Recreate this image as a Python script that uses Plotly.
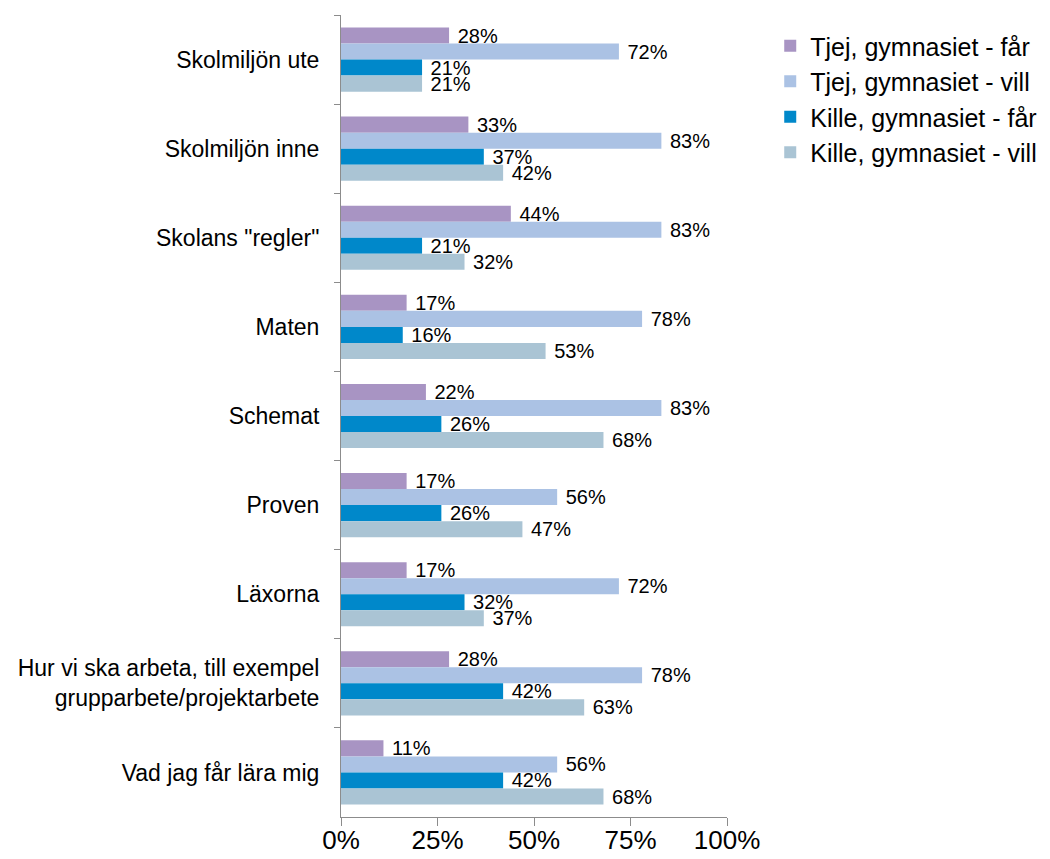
import plotly.graph_objects as go

categories = ['Skolmiljön ute', 'Skolmiljön inne', 'Skolans "regler"', 'Maten', 'Schemat',
              'Proven', 'Läxorna', 'Hur vi ska arbeta, till exempel<br>grupparbete/projektarbete',
              'Vad jag får lära mig']

tjej_far = [28, 33, 44, 17, 22, 17, 17, 28, 11]
tjej_vill = [72, 83, 83, 78, 83, 56, 72, 78, 56]
kille_far = [21, 37, 21, 16, 26, 26, 32, 42, 42]
kille_vill = [21, 42, 32, 53, 68, 47, 37, 63, 68]

x_ticks = [0, 25, 50, 75, 100]

series = [
    ('Tjej, gymnasiet - får', tjej_far, '#A894C3'),
    ('Tjej, gymnasiet - vill', tjej_vill, '#ABC2E4'),
    ('Kille, gymnasiet - får', kille_far, '#0088CA'),
    ('Kille, gymnasiet - vill', kille_vill, '#AAC4D4'),
]

fig = go.Figure()
for name, vals, color in series:
    fig.add_trace(go.Bar(
        y=categories, x=vals, name=name, orientation='h',
        marker=dict(color=color, line=dict(width=0)),
        text=[f' {v}%' for v in vals], textposition='outside',
        textfont=dict(size=20, color='black'), cliponaxis=False,
    ))

# the page body has an 8px margin, so the figure is shrunk and margins shifted
fig.update_layout(
    barmode='group', bargap=0.28, bargroupgap=0,
    width=1042, height=851,
    margin=dict(l=333, r=323, t=7, b=42, autoexpand=False),
    plot_bgcolor='white', paper_bgcolor='white',
    font=dict(family='Liberation Sans, Arial, sans-serif', color='black'),
    uniformtext=dict(minsize=20, mode='show'),
    legend=dict(x=1.112, y=0.99, xanchor='left', yanchor='top',
                font=dict(size=25), traceorder='normal', itemwidth=30),
    showlegend=True,
)
fig.update_xaxes(range=[0, 100], tickvals=x_ticks, ticktext=[f'{t}%' for t in x_ticks],
                 showgrid=False, zeroline=False, showline=True, linecolor='#8c8c8c',
                 ticks='outside', ticklen=8, tickcolor='#8c8c8c', automargin=False,
                 tickfont=dict(size=26), ticklabelstandoff=-8)
fig.update_yaxes(autorange='reversed', showgrid=False, showline=True, linecolor='#8c8c8c',
                 ticks='outside', ticklen=6, tickcolor='#8c8c8c', tickson='boundaries',
                 tickfont=dict(size=23), ticklabelstandoff=16, automargin=False)

fig.write_html('out.html')
